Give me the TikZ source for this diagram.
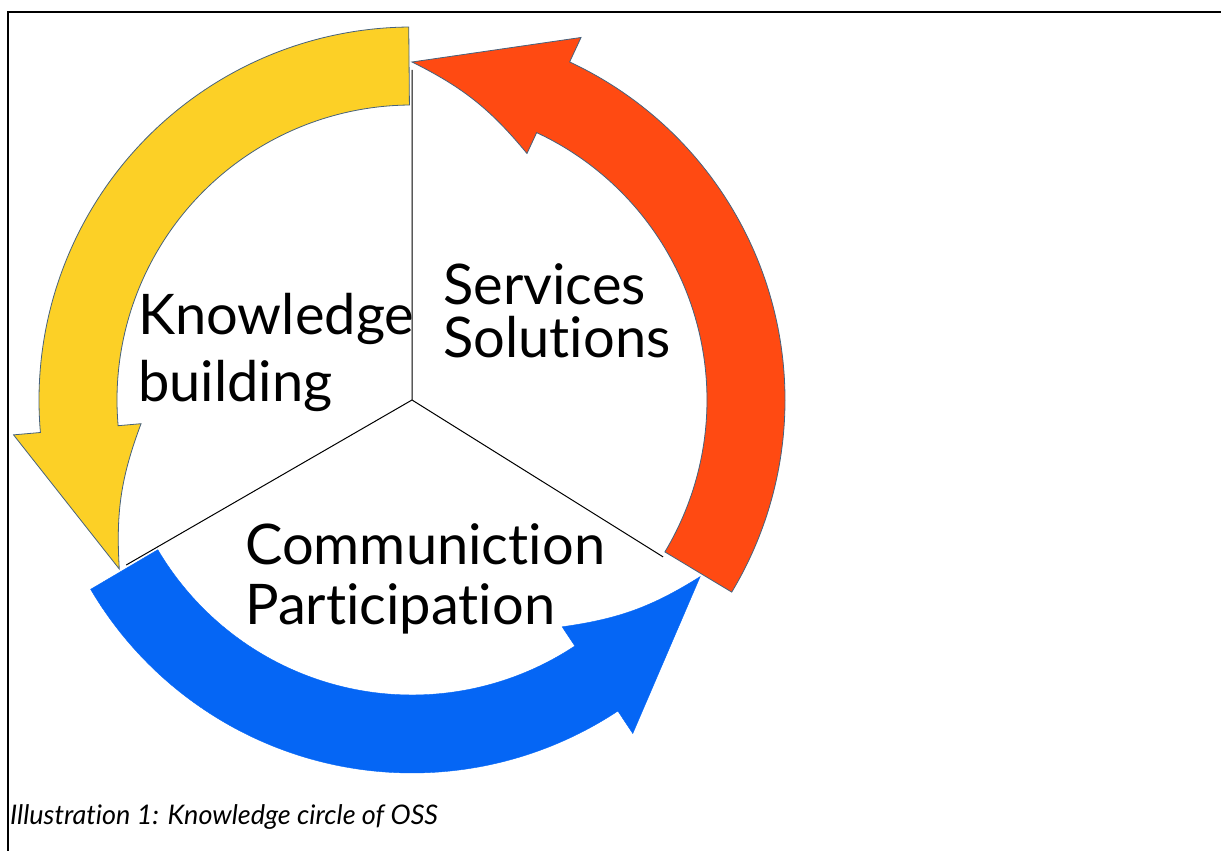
\documentclass[tikz,border=0pt]{standalone}
\usepackage{fontspec}
\setmainfont{Lato}[Ligatures=NoCommon]
\definecolor{kbyellow}{RGB}{252,208,38}
\definecolor{ssred}{RGB}{255,74,18}
\definecolor{cpblue}{RGB}{5,102,245}
\definecolor{rimgray}{RGB}{70,98,125}
\tikzset{
  kbarrow/.style={fill=kbyellow,draw=rimgray,line width=0.8pt},
  ssarrow/.style={fill=ssred,draw=rimgray,line width=0.8pt},
  cparrow/.style={fill=cpblue,draw=cpblue,line width=0.4pt},
  sector/.style={align=left,anchor=base west,inner sep=0pt,font=\fontsize{56}{60}\selectfont},
}
\begin{document}
\begin{tikzpicture}[x=1pt,y=1pt]
\useasboundingbox (0,0) rectangle (1221,851);
\draw[line width=1.2pt] (8,0) -- (8,839) -- (1221,839);
\coordinate (hub) at (412,451);
\begin{scope}[shift={(hub)}]
\draw[line width=1pt] (0,0) -- (90:330pt) (0,0) -- (210:330pt) (0,0) -- (328:296pt);
\foreach \a/\t/\s in {90.5/210/kbarrow,210.5/328.5/cparrow,329/450/ssarrow}
  \filldraw[\s] (\a:373pt) arc[start angle=\a, end angle=\t-25, radius=373pt]
    -- ({\t-25}:400pt) -- (\t:338pt) to[bend left=12] ({\t-25}:272pt)
    -- ({\t-25}:295pt) arc[start angle=\t-25, end angle=\a, radius=295pt] -- cycle;
\end{scope}
\node[sector] (kb) at (138,449) {Knowledge\\[7pt]building};
\node[sector] (ss) at (443,493) {Services\\[-7pt]Solutions};
\node[sector] (cp) at (245,226) {Communiction\\Participation};
\node[anchor=base west,inner sep=0pt,font=\fontsize{27}{33}\selectfont\itshape] (cap) at (10,26) {Illustration 1: Knowledge circle of OSS};
\end{tikzpicture}
\end{document}
